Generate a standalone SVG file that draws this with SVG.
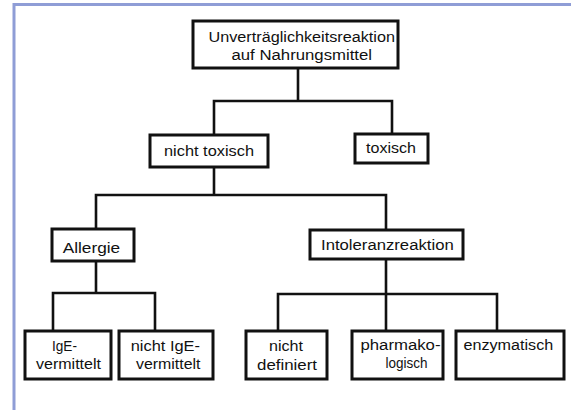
<svg xmlns="http://www.w3.org/2000/svg" width="571" height="410" viewBox="0 0 571 410">
<style>
.frame{fill:none;stroke:#8f9dd6;stroke-width:3}
.box{fill:#fff;stroke:#111;stroke-width:3}
.conn{fill:none;stroke:#111;stroke-width:2.6;stroke-linecap:square}
text{font-family:"Liberation Sans",Arial,sans-serif;font-size:15.5px;fill:#111}
</style>
<rect width="571" height="410" fill="#fff"/>
<path class="frame" d="M14 410 V4.5 H571"/>
<g id="connectors">
<path class="conn" d="M298 69 V101 M214 101 H392 M214 101 V135 M392 101 V134"/>
<path class="conn" d="M214 167 V195 M96 195 H386 M96 195 V229 M386 195 V230"/>
<path class="conn" d="M96 261 V293 M53 293 H155 M53 293 V331 M155 293 V331"/>
<path class="conn" d="M386 259 V294 M278 294 H497 M278 294 V331 M386 294 V331 M497 294 V331"/>
</g>
<g id="root">
<rect class="box" x="193" y="21" width="205" height="47"/>
<text x="208.5" y="41.7" textLength="186.5" lengthAdjust="spacingAndGlyphs">Unverträglichkeitsreaktion</text>
<text x="231.5" y="59.5" textLength="140.5" lengthAdjust="spacingAndGlyphs">auf Nahrungsmittel</text>
</g>
<g id="nicht-toxisch">
<rect class="box" x="150" y="135" width="118" height="32"/>
<text x="164" y="156" textLength="90" lengthAdjust="spacingAndGlyphs">nicht toxisch</text>
</g>
<g id="toxisch">
<rect class="box" x="355" y="134" width="73" height="29"/>
<text x="366" y="153.3" textLength="50" lengthAdjust="spacingAndGlyphs">toxisch</text>
</g>
<g id="allergie">
<rect class="box" x="52" y="229" width="82" height="32"/>
<text x="62.7" y="252.7" textLength="57.5" lengthAdjust="spacingAndGlyphs">Allergie</text>
</g>
<g id="intoleranz">
<rect class="box" x="310" y="230" width="153" height="29"/>
<text x="321" y="250" textLength="132.7" lengthAdjust="spacingAndGlyphs">Intoleranzreaktion</text>
</g>
<g id="ige">
<rect class="box" x="25" y="331" width="86" height="48"/>
<text x="52" y="350.7" textLength="25" lengthAdjust="spacingAndGlyphs">IgE-</text>
<text x="36" y="369.3" textLength="65" lengthAdjust="spacingAndGlyphs">vermittelt</text>
</g>
<g id="nicht-ige">
<rect class="box" x="119" y="331" width="94" height="48"/>
<text x="130.7" y="350.7" textLength="69.3" lengthAdjust="spacingAndGlyphs">nicht IgE-</text>
<text x="136" y="369.3" textLength="64.5" lengthAdjust="spacingAndGlyphs">vermittelt</text>
</g>
<g id="nicht-definiert">
<rect class="box" x="246" y="331" width="81" height="48"/>
<text x="269" y="350.7" textLength="34" lengthAdjust="spacingAndGlyphs">nicht</text>
<text x="257" y="370" textLength="60" lengthAdjust="spacingAndGlyphs">definiert</text>
</g>
<g id="pharmakologisch">
<rect class="box" x="352" y="331" width="91" height="48"/>
<text x="360.5" y="350" textLength="80" lengthAdjust="spacingAndGlyphs">pharmako-</text>
<text x="385.5" y="368.3" textLength="42" lengthAdjust="spacingAndGlyphs">logisch</text>
</g>
<g id="enzymatisch">
<rect class="box" x="456" y="331" width="108" height="48"/>
<text x="463.5" y="350" textLength="89.7" lengthAdjust="spacingAndGlyphs">enzymatisch</text>
</g>
</svg>
